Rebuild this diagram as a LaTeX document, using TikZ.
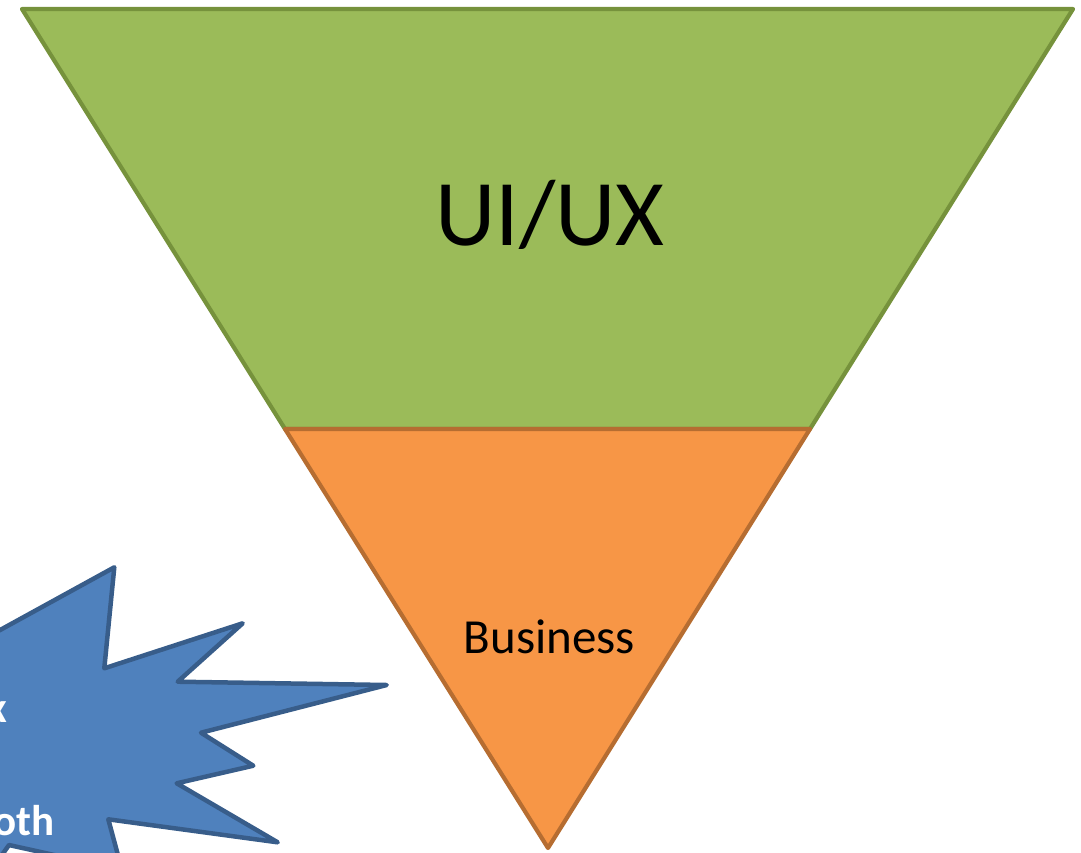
\documentclass[tikz,border=0pt]{standalone}
\usepackage{fontspec}
\setmainfont{Carlito}
\definecolor{gfill}{HTML}{9BBB59}
\definecolor{gline}{HTML}{76923C}
\definecolor{ofill}{HTML}{F79646}
\definecolor{oline}{HTML}{B66D31}
\definecolor{bfill}{HTML}{4F81BD}
\definecolor{bline}{HTML}{385D8A}
\tikzset{
  seg/.style={line width=4.2pt, line join=round},
  lbl/.style={anchor=base, inner sep=0pt, text=black},
  burst/.style={anchor=base east, inner sep=0pt, text=white, font=\bfseries\fontsize{43}{43}\selectfont}
}
\begin{document}
\begin{tikzpicture}[x=1pt,y=-1pt]
\useasboundingbox (0,0) rectangle (1081,852);
\begin{scope}
\clip (0,0) rectangle (1081,852);
% funnel
\coordinate (tl) at (22,9);
\coordinate (tr) at (1073,9);
\coordinate (ml) at (285,429);
\coordinate (mr) at (810,429);
\coordinate (ap) at (548,848);
\draw[seg, fill=gfill, draw=gline] (tl) -- (tr) -- (mr) -- (ml) -- cycle;
\draw[seg, fill=ofill, draw=oline] (ml) -- (mr) -- (ap) -- cycle;
\node[lbl, font=\fontsize{94}{94}\selectfont] (ui) at (550,245) {UI/UX};
\node[lbl, font=\fontsize{49}{49}\selectfont] (bus) at (549.5,653) {Business};
% starburst
\draw[seg, line width=4.5pt, fill=bfill, draw=bline]
  (-60,663) -- (114.3,567.3) -- (104.3,668.3) -- (242.7,623.3) -- (177.7,681.7)
  -- (386.7,685) -- (201,732.7) -- (253.3,765.7) -- (176.7,783.3)
  -- (277.7,842.3) -- (108.3,819.3) -- (122,870) -- (9,845) -- (-30,900)
  -- (-200,900) -- (-200,600) -- cycle;
\node[burst] (bx) at (7,722) {x};
\node[burst] (both) at (55,835) {oth};
\end{scope}
\end{tikzpicture}
\end{document}
